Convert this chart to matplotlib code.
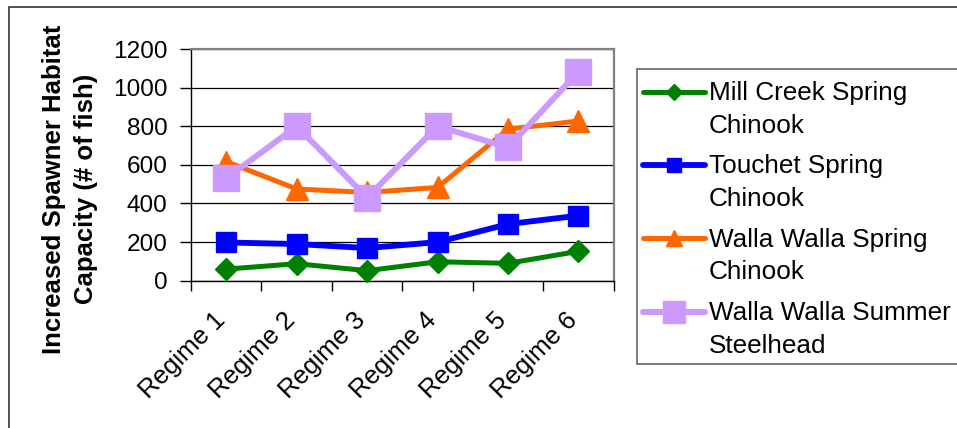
import numpy as np
import matplotlib
matplotlib.use("Agg")
import matplotlib.pyplot as plt
from matplotlib.lines import Line2D
from matplotlib.patches import Rectangle
from matplotlib.transforms import ScaledTranslation

plt.rcParams['font.family'] = ['Liberation Sans', 'DejaVu Sans']

# ---- data -------------------------------------------------------------
regimes = ["Regime 1", "Regime 2", "Regime 3", "Regime 4", "Regime 5", "Regime 6"]
series_names = [
    "Mill Creek Spring\nChinook",
    "Touchet Spring\nChinook",
    "Walla Walla Spring\nChinook",
    "Walla Walla Summer\nSteelhead",
]
mill_creek_spring = [60, 88, 52, 98, 90, 152]
touchet_spring = [198, 190, 169, 200, 293, 337]
walla_walla_spring = [617, 475, 457, 483, 785, 827]
walla_walla_steelhead = [530, 800, 430, 800, 690, 1082]
y_ticks = [0, 200, 400, 600, 800, 1000, 1200]
y_label = "Increased Spawner Habitat\nCapacity (# of fish)"

series_values = [mill_creek_spring, touchet_spring,
                 walla_walla_spring, walla_walla_steelhead]

# ---- styles -----------------------------------------------------------
colors = ["#008000", "#0000FF", "#FF6600", "#CC99FF"]
markers = ["D", "s", "^", "s"]
marker_sizes = [10.7, 14.2, 15.5, 18.5]
legend_marker_sizes = [7.8, 9.8, 12.2, 15.8]
line_widths = [3.6, 4.2, 3.6, 4.3]

W, H = 957, 428
fig = plt.figure(figsize=(W / 100, H / 100), dpi=100)


def fx(px):
    return px / W


def fy(py):
    return 1 - py / H


ax = fig.add_axes([fx(191), fy(280.7), fx(613.7) - fx(191), fy(49) - fy(280.7)])
x = np.arange(len(regimes))

for vals, c, m, ms, lw in zip(series_values, colors, markers, marker_sizes, line_widths):
    ax.plot(x, vals, color=c, lw=lw, marker=m, ms=ms, mec=c, mfc=c,
            solid_joinstyle="round", clip_on=False, zorder=3)

ax.set_xlim(-0.5, len(regimes) - 0.5)
ax.set_ylim(y_ticks[0], y_ticks[-1])
ax.set_yticks(y_ticks)
ax.yaxis.grid(True, color="black", lw=0.9)
ax.set_axisbelow(True)

ax.tick_params(axis="y", length=8, width=1, pad=9.0, labelsize=17.6,
               direction="out", color="black")
ax.set_xticks(x)
ax.set_xticklabels(regimes, rotation=45, ha="right", va="top",
                   rotation_mode="anchor", fontsize=18.5)
ax.tick_params(axis="x", which="major", length=0, pad=19.5)
ax.set_xticks(np.arange(-0.5, len(regimes)), minor=True)
ax.tick_params(axis="x", which="minor", length=7, width=1,
               direction="out", color="black")
shift = ScaledTranslation(-13.5 / 100, 0, fig.dpi_scale_trans)
for lab in ax.get_xticklabels():
    lab.set_transform(lab.get_transform() + shift)

for side in ("top", "right"):
    ax.spines[side].set_color("#808080")
    ax.spines[side].set_linewidth(1.6)
for side in ("left", "bottom"):
    ax.spines[side].set_color("black")
    ax.spines[side].set_linewidth(1.0)

# y-axis title
fig.text(fx(70), fy(189), y_label, rotation=90, ha="center", va="center",
         fontsize=18.5, fontweight="bold", multialignment="center",
         linespacing=1.41)

# legend box with one entry per series
fig.add_artist(Rectangle((fx(637), fy(364)), fx(1000) - fx(637), fy(69) - fy(364),
                         transform=fig.transFigure, facecolor="white",
                         edgecolor="#666666", lw=1.2))
for i, (name, c, m, ms, lw) in enumerate(zip(series_names, colors, markers,
                                             legend_marker_sizes, line_widths)):
    yc = 91.7 + i * 73.3
    fig.add_artist(Line2D([fx(643), fx(705)], [fy(yc), fy(yc)],
                          transform=fig.transFigure, color=c, lw=lw,
                          solid_capstyle="round"))
    fig.add_artist(Line2D([fx(674)], [fy(yc)], transform=fig.transFigure,
                          marker=m, ms=ms, color=c, mec=c, mfc=c, lw=0))
    fig.text(fx(709), fy(yc - 10.5), name, ha="left", va="top", fontsize=18.8,
             linespacing=1.445)

# outer frame
fig.add_artist(Rectangle((fx(8.5), -0.2), 1.5, fy(7) + 0.2,
                         transform=fig.transFigure, fill=False,
                         edgecolor="#222222", lw=1.1))

fig.savefig("out.png", dpi=100)
